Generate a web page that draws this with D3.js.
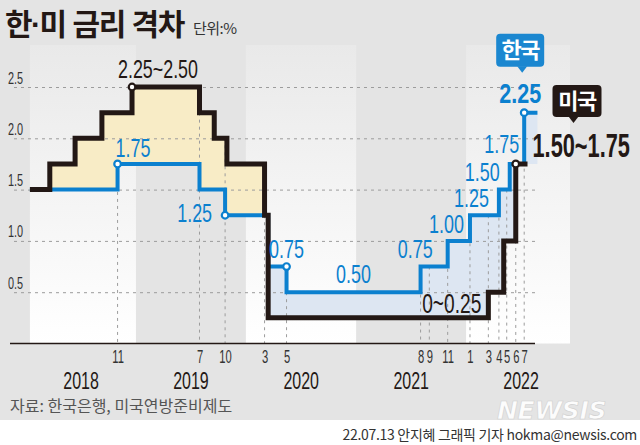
<!DOCTYPE html>
<html><head><meta charset="utf-8">
<script src="https://cdn.jsdelivr.net/npm/d3@7"></script>
<style>body{margin:0;background:#e4e4e4;} svg{display:block}</style>
</head><body><svg id="c" width="640" height="445"></svg>
<script>
// ---------------- data ----------------
const years = [2018, 2019, 2020, 2021, 2022];
const yTicks = [0.5, 1.0, 1.5, 2.0, 2.5];
// Korea base rate (step dates, new rate)
const krDates = ["2018-01-14","2018-11-01","2019-07-31","2019-10-24","2020-03-15","2020-05-15","2021-08-03","2021-11-01","2022-01-14","2022-04-20","2022-05-26","2022-07-13","2022-08-26"];
const krRates = [1.50, 1.75, 1.50, 1.25, 0.75, 0.50, 0.75, 1.00, 1.25, 1.50, 1.75, 2.25, 2.25];
// US federal funds target (upper bound)
const usDates = ["2018-01-14","2018-03-21","2018-06-13","2018-09-10","2018-12-19","2019-07-31","2019-09-18","2019-10-30","2020-03-03","2020-03-15","2022-03-16","2022-05-06","2022-06-15","2022-07-24"];
const usUpper = [1.50, 1.75, 2.00, 2.25, 2.50, 2.25, 2.00, 1.75, 1.25, 0.25, 0.50, 1.00, 1.75, 1.75];
// month ticks on the x axis
const monthTicks = ["2018-11-01","2019-07-31","2019-10-24","2020-03-03","2020-05-15","2021-08-03","2021-09-01","2021-11-01","2022-01-14","2022-03-16","2022-04-20","2022-05-16","2022-06-15","2022-07-13"];
// marked points
const krMarkDates = ["2018-11-01","2019-10-24","2020-05-15","2022-07-13"];
const krMarkValues = [1.75, 1.25, 0.75, 2.25];
const usMarkDates = ["2018-12-19","2022-06-15"];
const usMarkValues = [2.50, 1.75];

const title = "한·미 금리 격차";
const unit = "단위:%";
const source = "자료: 한국은행, 미국연방준비제도";
const credit = "22.07.13 안지혜 그래픽 기자 hokma@newsis.com";

// ---------------- setup ----------------
const parse = d3.timeParse("%Y-%m-%d");
const krD = krDates.map(parse), usD = usDates.map(parse);
const NARROW = "'Liberation Sans',Arial,sans-serif";
const KRF = "'Noto Sans CJK KR','Noto Sans',sans-serif";
const DARK = "#231815", BLUE = "#0b80cf";

const x = d3.scaleTime()
  .domain([new Date(years[0],0,1), new Date(years[years.length-1]+1,0,1)])
  .range([26, 576]);
const y = d3.scaleLinear().domain([0, 2.5]).range([343.5, 87]);
const plotL = x(krD[0]), plotR = 570, axisL = 10, axisR = 535;

const svg = d3.select("#c");
const defs = svg.append("defs");
const grad = defs.append("linearGradient").attr("id","band").attr("x1",0).attr("y1",0).attr("x2",0).attr("y2",1);
grad.append("stop").attr("offset","0%").attr("stop-color","#e9e9e9");
grad.append("stop").attr("offset","100%").attr("stop-color","#ffffff");

svg.append("rect").attr("width",640).attr("height",445).attr("fill","#e4e4e4");

// year bands
svg.append("g").selectAll("rect").data(years.filter((d,i)=>i%2===0)).join("rect")
  .attr("x", d => Math.max(plotL, x(new Date(d,0,1))))
  .attr("width", d => Math.min(plotR, x(new Date(d+1,0,1))) - Math.max(plotL, x(new Date(d,0,1))))
  .attr("y", 45).attr("height", y(0) - 45)
  .attr("fill","url(#band)");

// bottom white strip
svg.append("rect").attr("x",0).attr("y",420).attr("width",640).attr("height",25).attr("fill","#ffffff");

function stepVal(dates, vals, d){ const i = d3.bisectRight(dates, d) - 1; return vals[Math.max(0, i)]; }

// fills
const allD = Array.from(new Set(krD.concat(usD).map(d=>+d))).sort((a,b)=>a-b)
  .filter(t => t <= +krD[krD.length-1]).map(t => new Date(t));
const merged = allD.map(d => ({d, kr: stepVal(krD,krRates,d), us: stepVal(usD,usUpper,d)}));
const area = d3.area().x(d=>x(d.d)).curve(d3.curveStepAfter);
svg.append("path").attr("fill","#f8ecc6")
  .attr("d", area.y0(d=>y(d.kr)).y1(d=>y(Math.max(d.us,d.kr)))(merged));
svg.append("path").attr("fill","#dde6f2")
  .attr("d", area.y0(d=>y(d.us)).y1(d=>y(Math.max(d.us,d.kr)))(merged));

// gridlines
const gg = svg.append("g").attr("transform",`translate(${axisR},0)`)
  .call(d3.axisLeft(y).tickValues(yTicks).tickSize(axisR-axisL).tickFormat(""));
gg.select(".domain").remove();
gg.selectAll("line").attr("stroke","#9c9c9c").attr("stroke-dasharray","3,4").attr("stroke-width",1);

// vertical dashed lines at month ticks
svg.append("g").selectAll("line").data(monthTicks.map(parse)).join("line")
  .attr("x1", d=>x(d)).attr("x2", d=>x(d))
  .attr("y1", d => {
    const k = stepVal(krD,krRates,d), u = stepVal(usD,usUpper,d);
    const i = krD.findIndex(t=>+t===+d);
    const top = (i>0 && krRates[i] > krRates[i-1]) ? k : Math.max(k,u);
    return y(top);
  })
  .attr("y2", y(0))
  .attr("stroke","#9c9c9c").attr("stroke-dasharray","3,4").attr("stroke-width",1);

// axis line
svg.append("line").attr("x1",axisL).attr("x2",axisR).attr("y1",y(0)).attr("y2",y(0))
  .attr("stroke",DARK).attr("stroke-width",1.5);

// lines
const line = d3.line().x(d=>x(d.d)).y(d=>y(d.v)).curve(d3.curveStepAfter);
svg.append("path").attr("fill","none").attr("stroke",BLUE).attr("stroke-width",4)
  .attr("d", line(krD.map((d,i)=>({d, v:krRates[i]}))));
svg.append("path").attr("fill","none").attr("stroke",DARK).attr("stroke-width",5)
  .attr("d", line(usD.map((d,i)=>({d, v:usUpper[i]}))));

// marks
svg.append("g").selectAll("circle").data(krMarkDates.map((d,i)=>({d:parse(d), v:krMarkValues[i]}))).join("circle")
  .attr("cx",d=>x(d.d)).attr("cy",d=>y(d.v)).attr("r",3.3)
  .attr("fill","#fff").attr("stroke",BLUE).attr("stroke-width",2.2);
svg.append("g").selectAll("circle").data(usMarkDates.map((d,i)=>({d:parse(d), v:usMarkValues[i]}))).join("circle")
  .attr("cx",d=>x(d.d)).attr("cy",d=>y(d.v)).attr("r",3.3)
  .attr("fill","#fff").attr("stroke",DARK).attr("stroke-width",2.2);

// text helper (condensed numerals)
function ntext(x0, y0, str, o={}) {
  const size=o.size||26, sx=o.sx||0.69;
  return svg.append("text")
    .attr("transform",`translate(${x0},${y0}) scale(${sx},1)`)
    .attr("text-anchor",o.anchor||"start")
    .attr("font-family",o.family||NARROW).attr("font-size",size)
    .attr("font-weight",o.weight||"normal").attr("fill",o.fill||DARK)
    .text(str);
}

// axis labels (month / year)
const gx = svg.append("g").attr("transform",`translate(0,${y(0)})`)
  .call(d3.axisBottom(x).tickValues(monthTicks.map(parse)).tickFormat(d3.timeFormat("%-m")).tickSize(0));
gx.select(".domain").remove();
gx.selectAll("text").attr("y",null).attr("dy",null)
  .attr("transform","translate(0,19.5) scale(0.64,1)")
  .attr("font-family",NARROW).attr("font-size",17.5).attr("fill","#333");
const gyr = svg.append("g").attr("transform",`translate(0,${y(0)})`)
  .call(d3.axisBottom(x).tickValues(years.map(v=>new Date(v,6,1))).tickFormat(d3.timeFormat("%Y")).tickSize(0));
gyr.select(".domain").remove();
gyr.selectAll("text").attr("y",null).attr("dy",null)
  .attr("transform","translate(0,45.5) scale(0.68,1)")
  .attr("font-family",NARROW).attr("font-size",23.5).attr("fill",DARK);

// y labels
const gy = svg.append("g").attr("transform",`translate(${axisL-2},0)`)
  .call(d3.axisLeft(y).tickValues(yTicks).tickFormat(d3.format(".1f")).tickSize(0));
gy.select(".domain").remove();
gy.selectAll("text").attr("x",null).attr("dy",null).attr("text-anchor","start")
  .attr("transform","translate(0,-4) scale(0.68,1)")
  .attr("font-family",NARROW).attr("font-size",16).attr("fill","#333");

// Korean rate labels
const fmt = d3.format(".2f");
const X = i => x(krD[i]);
const krLab = [
  {i:1, ax:X(1)-2, anchor:"start", dy:-7},
  {i:3, ax:X(3)-13, anchor:"end", dy:7},
  {i:4, ax:X(5), anchor:"middle", dy:-9},
  {i:5, ax:(X(5)+X(6))/2, anchor:"middle", dy:-9},
  {i:6, ax:X(7)-15, anchor:"end", dy:-9},
  {i:7, ax:X(8)-6, anchor:"end", dy:-8},
  {i:8, ax:X(9)-10, anchor:"end", dy:-8},
  {i:9, ax:X(10)-10, anchor:"end", dy:-9},
  {i:10, ax:X(11)-5, anchor:"end", dy:-11}
];
krLab.forEach(l => ntext(l.ax, y(krRates[l.i]) + l.dy, fmt(krRates[l.i]), {anchor:l.anchor, fill:BLUE}));
// final Korea label (bold)
const kLast = 11;
const kx = X(kLast) - 4, ky = y(krRates[kLast]) - 10;
ntext(kx, ky, fmt(krRates[kLast]), {anchor:"middle", fill:BLUE, weight:"bold", size:28, sx:0.77});

// US labels
const usFmt = v => { const lo = v - 0.25; return (lo === 0 ? "0" : fmt(lo)) + "~" + fmt(v); };
const U = i => x(usD[i]);
ntext(U(4)-14, y(usUpper[4]) - 9, usFmt(usUpper[4]), {size:25, sx:0.715});
ntext(U(10)-7, y(usUpper[9]) - 5, usFmt(usUpper[9]), {size:27, sx:0.71, anchor:"end"});
const uLast = usD.length-1;
const ux = U(uLast) + 5, uy = y(usUpper[uLast]) - 7;
ntext(ux, uy, usFmt(usUpper[uLast]), {size:33, sx:0.66, weight:"bold"});

// callouts
function callout(cx, bottom, w, h, px, fill, label, fs) {
  const g = svg.append("g");
  g.append("rect").attr("x",cx-w/2).attr("y",bottom-h).attr("width",w).attr("height",h).attr("rx",4).attr("fill",fill);
  g.append("path").attr("d",`M${px-5},${bottom-0.5}L${px+5},${bottom-0.5}L${px},${bottom+6}Z`).attr("fill",fill);
  g.append("text").attr("x",cx).attr("y",bottom-h/2+fs*0.37).attr("text-anchor","middle")
    .attr("font-family",KRF).attr("font-weight","bold").attr("font-size",fs).attr("letter-spacing",-1.5)
    .attr("fill","#fff").text(label);
}
callout(kx, ky - 36, 48, 33, kx + 2, "#1b87d0", "한국", 22);
callout(ux + 44.5, uy - 40, 49, 32, ux + 41, DARK, "미국", 22);

// title & texts (Latin font first so the middle dot and spaces are narrow; Hangul falls back to Noto CJK)
svg.append("text").attr("x",5).attr("y",35)
  .attr("font-family","'Liberation Sans','Noto Sans CJK KR',sans-serif").attr("font-weight","bold")
  .attr("font-size",30).attr("letter-spacing",-1.5).attr("fill",DARK).text(title);
svg.append("text").attr("x",193).attr("y",34).attr("font-family",KRF)
  .attr("font-size",15).attr("letter-spacing",-0.5).attr("fill","#333").text(unit);
svg.append("text").attr("x",10).attr("y",412).attr("font-family",KRF)
  .attr("font-size",16).attr("letter-spacing",0).attr("fill","#555").text(source);
svg.append("text").attr("x",497).attr("y",419).attr("font-family","'DejaVu Sans',sans-serif")
  .attr("font-weight","bold").attr("font-style","italic").attr("font-size",25).attr("letter-spacing",-0.3)
  .attr("fill","#ffffff").attr("fill-opacity",0.92).attr("stroke","#cfcfcf").attr("stroke-width",0.6).text("NEWSIS");
svg.append("text").attr("x",637).attr("y",440).attr("text-anchor","end").attr("font-family",KRF)
  .attr("font-size",14).attr("letter-spacing",-0.3).attr("fill","#333").text(credit);
</script>
</body></html>
